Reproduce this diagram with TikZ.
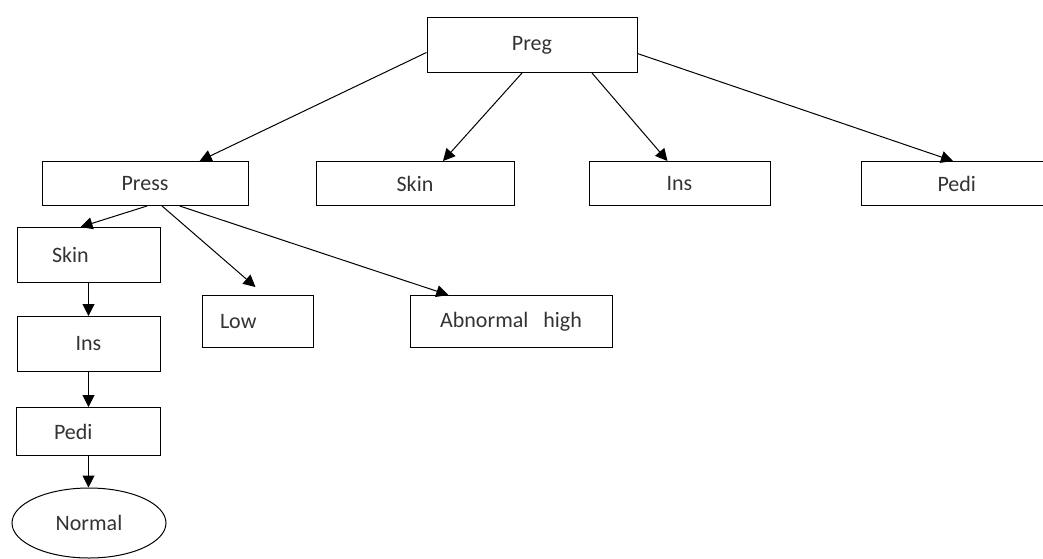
\documentclass[tikz,border=0pt]{standalone}
\usepackage{fontspec}
\setmainfont{Carlito}
\usepackage{tikz}
\usetikzlibrary{shapes.geometric, arrows.meta}
\newdimen\px \px=0.75pt
\tikzstyle{box} = [draw, rectangle, line width=1\px, text=black!80]
\tikzstyle{arrow} = [line width=0.75pt, -{Triangle[width=9pt,length=9pt]}]

\begin{document}
\begin{tikzpicture}[x=1\px, y=-1\px, font=\fontsize{16.5}{20}\selectfont]
      \useasboundingbox (0,0) rectangle (1043,558);

      % Akar pohon
      \node[box, minimum width=210\px, minimum height=55\px] (preg) at (532,45) {Preg};

      % Tingkat pertama
      \node[box, minimum width=206\px, minimum height=44\px] (press) at (145,183.5) {Press};
      \node[box, minimum width=198\px, minimum height=44\px] (skin) at (415,183.5) {Skin};
      \node[box, minimum width=181\px, minimum height=44\px] (ins) at (679.5,183.5) {Ins};
      \node[box, align=left, inner xsep=76.5\px, text width=57\px, minimum height=44\px] (pedi) at (966,183.5) {Pedi};

      % Cabang dari Press
      \node[box, align=left, inner xsep=35\px, text width=73\px, minimum height=55\px] (skinL) at (88.5,255) {Skin};
      \node[box, minimum width=143\px, minimum height=55\px] (insL) at (88.5,344) {Ins};
      \node[box, align=left, inner xsep=37.5\px, text width=69\px, minimum height=48\px] (pediL) at (88.5,431.5) {Pedi};
      \node[draw, ellipse, line width=1\px, text=black!80, minimum width=154\px, minimum height=70\px] (normal) at (89,523) {Normal};
      \node[box, align=left, inner xsep=18\px, text width=75\px, minimum height=52\px] (low) at (257.5,321.5) {Low};
      \node[box, minimum width=202\px, minimum height=52\px] (abn) at (511,321.5) {Abnormal\ \ \ high};

      % Panah dari Preg
      \draw[arrow] ([yshift=-5.6pt]preg.west) -- ([xshift=41pt]press.north);
      \draw[arrow] ([xshift=-7.5pt]preg.south) -- ([xshift=21pt]skin.north);
      \draw[arrow] ([xshift=45pt]preg.south) -- ([xshift=-9pt]ins.north);
      \draw[arrow] ([yshift=-6.4pt]preg.east) -- ([xshift=-9.75pt]pedi.north);

      % Panah dari Press
      \draw[arrow] ([xshift=1.5pt]press.south) -- ([xshift=-6pt]skinL.north);
      \draw[arrow] ([xshift=12.8pt]press.south) -- ([xshift=-1.5pt,yshift=6pt]low.north);
      \draw[arrow] ([xshift=26pt]press.south) -- ([xshift=-47pt]abn.north);

      % Rantai ke bawah
      \foreach \a/\b in {skinL/insL, insL/pediL, pediL/normal} {
        \draw[arrow] (\a.south) -- (\a.south |- \b.north);
      }

    \end{tikzpicture}
\end{document}
